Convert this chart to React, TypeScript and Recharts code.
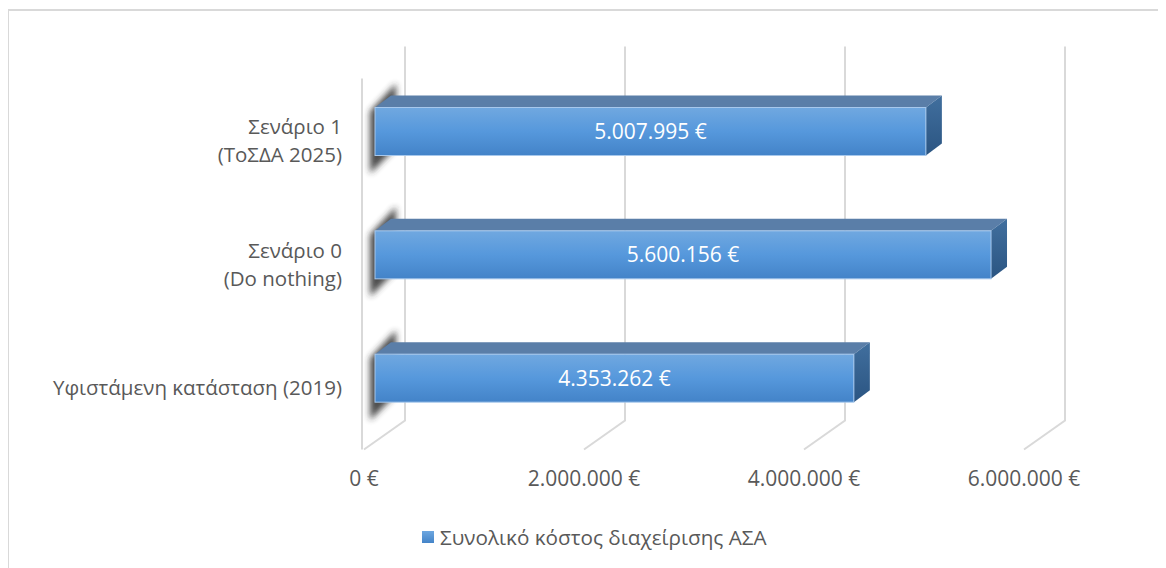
import React from "react"
import {
  BarChart,
  Bar,
  XAxis,
  YAxis,
  CartesianGrid,
  Legend,
  LabelList,
} from "recharts"

// Συνολικό κόστος διαχείρισης ΑΣΑ ανά σενάριο
const categories = [
  "Σενάριο 1\n(ΤοΣΔΑ 2025)",
  "Σενάριο 0\n(Do nothing)",
  "Υφιστάμενη κατάσταση (2019)",
]
const costs = [5007995, 5600156, 4353262]
const xTicks = [0, 2000000, 4000000, 6000000]
const seriesName = "Συνολικό κόστος διαχείρισης ΑΣΑ"

const data = categories.map((name, i) => ({ name, cost: costs[i] }))

const FONT = "'Open Sans', sans-serif"
const TEXT = "#595959"
const GRID = "#d9d9d9"

// depth of the 3d box (front -> back)
const DX = 16
const DY = 12

const euro = (v: number) =>
  String(Math.round(v)).replace(/\B(?=(\d{3})+(?!\d))/g, ".") + " €"

const Bar3D = (props: any) => {
  const { x, y, width, height } = props
  if (width == null || height == null) return null
  const r = x + width
  return (
    <g>
      <polygon
        points={`${x - 5},${y + 4} ${x + 21},${y - 24} ${x + 21},${y + height - 8} ${x - 5},${y + height + 18}`}
        fill="#2b2b2b"
        opacity={0.85}
        filter="url(#shadowBlur)"
      />
      <polygon
        points={`${x},${y} ${x + DX},${y - DY} ${r + DX},${y - DY} ${r},${y}`}
        fill="#5a7ea8"
      />
      <polygon
        points={`${r},${y} ${r + DX},${y - DY} ${r + DX},${y + height - DY} ${r},${y + height}`}
        fill="url(#sideGrad)"
      />
      <rect
        x={x}
        y={y}
        width={width}
        height={height}
        fill="url(#frontGrad)"
        stroke="#a7c8ec"
        strokeWidth={1}
      />
    </g>
  )
}

const WallLine = (props: any) => {
  const { x1, y1, y2, index } = props
  return (
    <g>
      <path
        d={`M${x1 + 30},${y1 - 23} L${x1 + 30},${y2 - 19} L${x1 - 11},${y2 + 10}`}
        fill="none"
        stroke={GRID}
        strokeWidth={2}
      />
      {index === 0 && (
        <line x1={x1 - 13} y1={y1 + 9} x2={x1 - 13} y2={y2 + 10} stroke={GRID} strokeWidth={2} />
      )}
    </g>
  )
}

const XTick = (props: any) => {
  const { x, y, payload } = props
  return (
    <text
      x={x - 11}
      y={y + 38}
      textAnchor="middle"
      fill={TEXT}
      fontSize={21}
      fontFamily={FONT}
    >
      {euro(payload.value)}
    </text>
  )
}

const YTick = (props: any) => {
  const { x, y, payload } = props
  const lines = String(payload.value).split("\n")
  const lh = 28
  const start = y + 10 - ((lines.length - 1) * lh) / 2
  return (
    <text
      x={x - 25}
      textAnchor="end"
      fill={TEXT}
      fontSize={20.5}
      fontFamily={FONT}
    >
      {lines.map((l, i) => (
        <tspan key={i} x={x - 25} y={start + i * lh} dy="0.35em">
          {l}
        </tspan>
      ))}
    </text>
  )
}

const LegendContent = () => (
  <div style={{ display: "flex", alignItems: "center", fontFamily: FONT, fontSize: 20.7, color: TEXT }}>
    <span
      style={{
        display: "inline-block",
        width: 12,
        height: 12,
        marginRight: 6,
        background: "linear-gradient(#6ea7e0, #4484c8)",
      }}
    />
    <span>{seriesName}</span>
  </div>
)

export default function App() {
  return (
    <div
      style={{
        marginTop: 1,
        marginLeft: -1,
        width: 1158,
        height: 559,
        borderTop: `2px solid ${GRID}`,
        borderLeft: `2px solid ${GRID}`,
        background: "#fff",
      }}
    >
      <BarChart
        width={1156}
        height={557}
        data={data}
        layout="vertical"
        margin={{ top: 58.5, right: 130, bottom: 88.5, left: 0 }}
      >
        <defs>
          <linearGradient id="frontGrad" x1="0" y1="0" x2="0" y2="1">
            <stop offset="0%" stopColor="#70a8e0" />
            <stop offset="50%" stopColor="#5698dc" />
            <stop offset="100%" stopColor="#4383c8" />
          </linearGradient>
          <linearGradient id="sideGrad" x1="0" y1="0" x2="0" y2="1">
            <stop offset="0%" stopColor="#416f9e" />
            <stop offset="100%" stopColor="#2b5582" />
          </linearGradient>
          <filter id="shadowBlur" x="-50%" y="-50%" width="200%" height="200%">
            <feGaussianBlur stdDeviation="3" />
          </filter>
        </defs>
        <CartesianGrid horizontal={false} vertical={WallLine} />
        <XAxis
          type="number"
          domain={[0, 6000000]}
          ticks={xTicks}
          height={40}
          axisLine={false}
          tickLine={false}
          tick={<XTick />}
          interval={0}
        />
        <YAxis
          type="category"
          dataKey="name"
          width={366}
          axisLine={false}
          tickLine={false}
          tick={<YTick />}
          interval={0}
        />
        <Legend
          layout="horizontal"
          verticalAlign="middle"
          content={<LegendContent />}
          wrapperStyle={{ top: 512, left: 413, width: "auto" }}
        />
        <Bar
          dataKey="cost"
          name={seriesName}
          barSize={48}
          shape={<Bar3D />}
          isAnimationActive={false}
        >
          <LabelList
            dataKey="cost"
            position="center"
            formatter={(v: any) => euro(Number(v))}
            fill="#ffffff"
            fontSize={21}
            fontFamily={FONT}
          />
        </Bar>
      </BarChart>
    </div>
  )
}
